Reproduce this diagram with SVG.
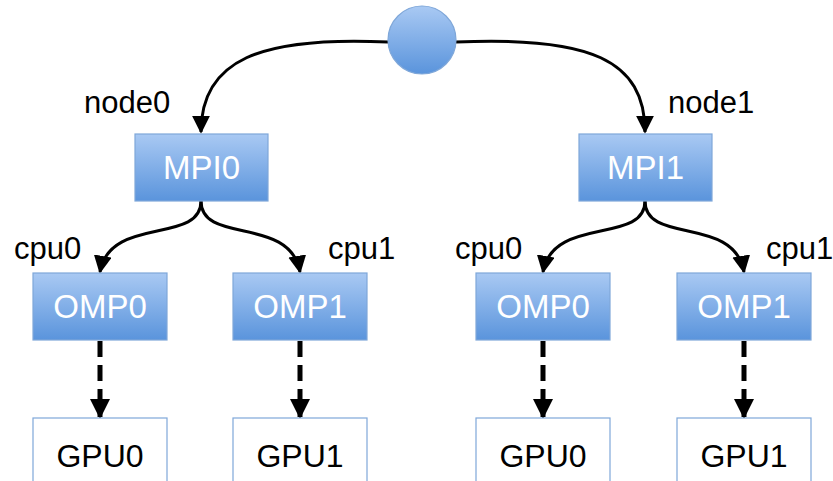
<svg xmlns="http://www.w3.org/2000/svg" width="833" height="481" viewBox="0 0 833 481">
<defs>
<linearGradient id="g" x1="0" y1="0" x2="0" y2="1">
<stop offset="0" stop-color="#a9c9f3"/>
<stop offset="1" stop-color="#5a94dc"/>
</linearGradient>
<marker id="ah" viewBox="0 0 10 10" refX="9" refY="5" markerWidth="6" markerHeight="6" orient="auto" markerUnits="strokeWidth">
<path d="M0,0 L10,5 L0,10 Z" fill="#000"/>
</marker>
<marker id="ahd" viewBox="0 0 10 10" refX="9" refY="5" markerWidth="4" markerHeight="4" orient="auto" markerUnits="strokeWidth">
<path d="M0,0 L10,5 L0,10 Z" fill="#000"/>
</marker>
</defs>
<style>
.box{fill:url(#g);stroke:#7fa7d9;stroke-width:1.2}
.gpu{fill:#fff;stroke:#7fa7d9;stroke-width:1.2}
.wt{font-family:"Liberation Sans",Arial,sans-serif;font-size:33px;fill:#fff;text-anchor:middle}
.bt{font-family:"Liberation Sans",Arial,sans-serif;font-size:32px;fill:#000;text-anchor:middle}
.lb{font-family:"Liberation Sans",Arial,sans-serif;font-size:31px;fill:#000}
.c{fill:none;stroke:#000;stroke-width:3;marker-end:url(#ah)}
.d{fill:none;stroke:#000;stroke-width:5;stroke-dasharray:16 8;marker-end:url(#ahd)}
</style>
<g id="connectors">
<path class="c" d="M388,42 C260,36 201,60 201,132"/>
<path class="c" d="M456,42 C590,36 645,60 645,132"/>
<path class="c" d="M201,201 C201,245 110,215 100,272"/>
<path class="c" d="M201,201 C201,245 290,215 300,272"/>
<path class="c" d="M645,201 C645,245 553,215 543,272"/>
<path class="c" d="M645,201 C645,245 734,215 744,272"/>
<path class="d" d="M100,341 L100,417"/>
<path class="d" d="M300,341 L300,417"/>
<path class="d" d="M543,341 L543,417"/>
<path class="d" d="M744,341 L744,417"/>
</g>
<g id="root"><circle cx="422" cy="40" r="34" fill="url(#g)" stroke="#7fa7d9" stroke-width="1.2"/></g>
<g id="label-node0"><text class="lb" x="84" y="113">node0</text></g>
<g id="label-node1"><text class="lb" x="668" y="113">node1</text></g>
<g id="mpi0"><rect class="box" x="135" y="134" width="133" height="67"/><text class="wt" x="201.5" y="179">MPI0</text></g>
<g id="mpi1"><rect class="box" x="579" y="134" width="133" height="67"/><text class="wt" x="645.5" y="179">MPI1</text></g>
<g id="label-cpu0-a"><text class="lb" x="14" y="259">cpu0</text></g>
<g id="label-cpu1-a"><text class="lb" x="328" y="259">cpu1</text></g>
<g id="label-cpu0-b"><text class="lb" x="455" y="259">cpu0</text></g>
<g id="label-cpu1-b"><text class="lb" x="766" y="259">cpu1</text></g>
<g id="omp0-a"><rect class="box" x="33" y="273" width="134" height="67"/><text class="wt" x="100" y="318">OMP0</text></g>
<g id="omp1-a"><rect class="box" x="233" y="273" width="134" height="67"/><text class="wt" x="300" y="318">OMP1</text></g>
<g id="omp0-b"><rect class="box" x="476" y="273" width="134" height="67"/><text class="wt" x="543" y="318">OMP0</text></g>
<g id="omp1-b"><rect class="box" x="677" y="273" width="134" height="67"/><text class="wt" x="744" y="318">OMP1</text></g>
<g id="gpu0-a"><rect class="gpu" x="33" y="418" width="134" height="70"/><text class="bt" x="100" y="467">GPU0</text></g>
<g id="gpu1-a"><rect class="gpu" x="233" y="418" width="134" height="70"/><text class="bt" x="300" y="467">GPU1</text></g>
<g id="gpu0-b"><rect class="gpu" x="476" y="418" width="134" height="70"/><text class="bt" x="543" y="467">GPU0</text></g>
<g id="gpu1-b"><rect class="gpu" x="677" y="418" width="134" height="70"/><text class="bt" x="744" y="467">GPU1</text></g>
</svg>
